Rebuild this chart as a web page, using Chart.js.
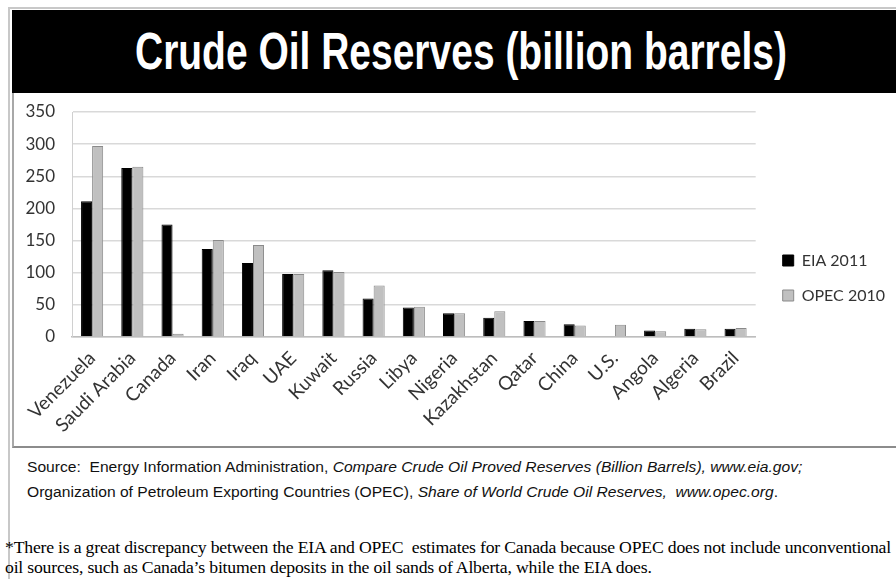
<!DOCTYPE html>
<html>
<head>
<meta charset="utf-8">
<script src="https://cdn.jsdelivr.net/npm/chart.js@4"></script>
<style>
  html, body { margin: 0; padding: 0; background: #fff; }
  body { width: 896px; height: 579px; position: relative; overflow: hidden; }
  .outer-left { position: absolute; left: 8px; top: 7px; width: 2px; height: 572px; background: #c8c8c8; }
  .outer-top { position: absolute; left: 8px; top: 7px; width: 888px; height: 2px; background: #c8c8c8; }
  .titlebar { position: absolute; left: 12px; top: 10px; width: 884px; height: 83px; background: #000; overflow: hidden; }
  .titlebar h1 { position: absolute; left: 123px; top: 0; margin: 0; color: #fff; font-family: "Liberation Sans", Arial, sans-serif; font-weight: bold; font-size: 52px; line-height: 83px; white-space: nowrap; transform-origin: 0 50%; }
  .box { position: absolute; left: 12px; top: 93px; width: 884px; height: 353px; border-left: 2px solid #a8a8a8; border-bottom: 2px solid #8c8c8c; }
  .chartwrap { position: absolute; left: 14px; top: 95px; width: 882px; height: 350px; }
  .source { position: absolute; left: 27px; top: 454px; font-family: "Liberation Sans", Arial, sans-serif; font-size: 15.5px; line-height: 25px; color: #111; white-space: nowrap; transform-origin: 0 0; }
  .note { position: absolute; left: 5px; top: 537px; font-family: "Liberation Serif", "Times New Roman", serif; font-size: 17.7px; line-height: 20px; color: #000; white-space: nowrap; letter-spacing: -0.2px; }
</style>
</head>
<body>
<div class="outer-left"></div>
<div class="outer-top"></div>
<div class="titlebar"><h1 id="title">Crude Oil Reserves (billion barrels)</h1></div>
<div class="box"></div>
<div class="chartwrap"><canvas id="chart"></canvas></div>
<div class="source" id="source">
  Source:&nbsp; Energy Information Administration, <i>Compare Crude Oil Proved Reserves (Billion Barrels), www.eia.gov;</i><br>
  Organization of Petroleum Exporting Countries (OPEC), <i>Share of World Crude Oil Reserves, &nbsp;www.opec.org</i>.
</div>
<div class="note">
  *There is a great discrepancy between the EIA and OPEC&nbsp; estimates for Canada because OPEC does not include unconventional<br>
  oil sources, such as Canada’s bitumen deposits in the oil sands of Alberta, while the EIA does.
</div>
<script>
const countries = ['Venezuela', 'Saudi Arabia', 'Canada', 'Iran', 'Iraq', 'UAE', 'Kuwait', 'Russia', 'Libya',
    'Nigeria', 'Kazakhstan', 'Qatar', 'China', 'U.S.', 'Angola', 'Algeria', 'Brazil'];
const eia2011 = [211, 263, 175, 137, 115, 98, 104, 60, 46, 37, 30, 25, 20, null, 10, 13, 13];
const opec2010 = [297, 265, 5, 151, 143, 98, 101, 80, 47, 37, 40, 25, 18, 19, 9, 12, 14];
const yTicks = [0, 50, 100, 150, 200, 250, 300, 350];

// squeeze the Arial-style text to the narrow look of the original slide
function squeeze(el, target) {
    el.style.transform = 'scaleX(' + (target / el.scrollWidth) + ')';
}
squeeze(document.getElementById('title'), 652);
squeeze(document.getElementById('source'), 775);

// push the legend a bit away from the plot
const legendGap = {
    id: 'legendGap',
    afterLayout(chart) {
        chart.legend.left += 8;
        chart.legend.right += 8;
    }
};

const ctx = document.getElementById('chart').getContext('2d');
new Chart(ctx, {
    type: 'bar',
    data: {
        labels: countries,
        datasets: [
            {
                label: 'EIA 2011',
                data: eia2011,
                backgroundColor: '#000000',
                borderColor: '#000000',
                borderWidth: 1,
                categoryPercentage: 0.55,
                barPercentage: 1.0
            },
            {
                label: 'OPEC 2010',
                data: opec2010,
                backgroundColor: '#c0c0c0',
                borderColor: '#8a8a8a',
                borderWidth: 1,
                categoryPercentage: 0.55,
                barPercentage: 1.0
            }
        ]
    },
    options: {
        responsive: true,
        maintainAspectRatio: false,
        animation: false,
        layout: { padding: { left: 0, right: 9, top: 17, bottom: 1 } },
        scales: {
            x: {
                afterFit: scale => { scale.height = 107; },
                grid: { display: false },
                border: { color: '#bdbdbd', width: 1.5 },
                ticks: {
                    maxRotation: 45,
                    minRotation: 45,
                    autoSkip: false,
                    padding: 2,
                    color: '#333',
                    font: { family: 'Lato', size: 19 }
                }
            },
            y: {
                min: 0,
                max: 350,
                afterBuildTicks: axis => { axis.ticks = yTicks.map(v => ({ value: v })); },
                afterFit: scale => {
                    scale.width = 58;
                    scale.paddingTop = 0;
                    scale.paddingBottom = 0;
                },
                grid: { color: '#d9d9d9', lineWidth: 1.5, drawTicks: false },
                border: { color: '#d0d0d0', width: 1 },
                ticks: {
                    padding: 17,
                    color: '#333',
                    font: { family: 'Lato', size: 17 }
                }
            }
        },
        plugins: {
            legend: {
                position: 'right',
                labels: {
                    boxWidth: 11,
                    boxHeight: 11,
                    padding: 19,
                    color: '#333',
                    font: { family: 'Lato', size: 16 }
                }
            },
            tooltip: { enabled: false }
        }
    },
    plugins: [legendGap]
});
</script>
</body>
</html>
